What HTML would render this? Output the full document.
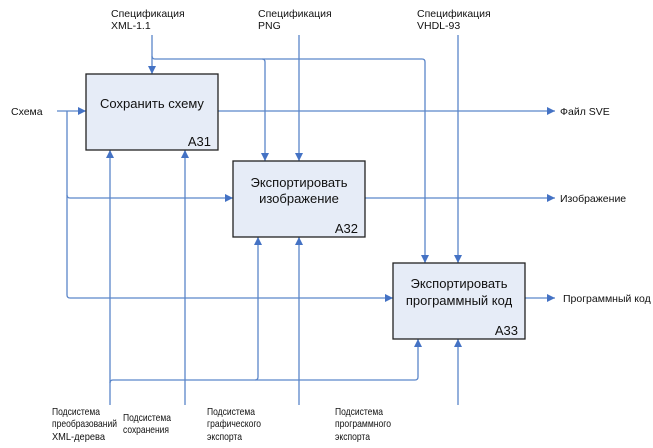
<!DOCTYPE html>
<html><head><meta charset="utf-8"><style>
body{margin:0;background:#fff}
text{font-family:"Liberation Sans",sans-serif;font-size:10.5px;fill:#111}
.b{font-size:13px}
.s{font-size:10.5px}
</style></head><body>
<svg width="653" height="443" viewBox="0 0 653 443" xmlns="http://www.w3.org/2000/svg">
<defs><marker id="a" viewBox="0 0 10 10" refX="10" refY="5" markerWidth="8" markerHeight="8" markerUnits="userSpaceOnUse" orient="auto"><path d="M0,0L10,5L0,10z" fill="#4472c4"/></marker></defs>
<g fill="none" stroke="#5b86c9" stroke-width="1.3">
<path d="M57,111H86" marker-end="url(#a)"/>
<path d="M67,111V195q0,3 3,3H233" marker-end="url(#a)"/>
<path d="M67,195V295q0,3 3,3H393" marker-end="url(#a)"/>
<path d="M218,111H555" marker-end="url(#a)"/>
<path d="M365,198H555" marker-end="url(#a)"/>
<path d="M525,298H555" marker-end="url(#a)"/>
<path d="M152,35V74" marker-end="url(#a)"/>
<path d="M152,56q0,3 3,3H262q3,0 3,3V161" marker-end="url(#a)"/>
<path d="M262,59H422q3,0 3,3V263" marker-end="url(#a)"/>
<path d="M299,35V161" marker-end="url(#a)"/>
<path d="M458,35V263" marker-end="url(#a)"/>
<path d="M110,405V150" marker-end="url(#a)"/>
<path d="M110,383q0,-3 3,-3H415q3,0 3,-3V339" marker-end="url(#a)"/>
<path d="M255,380q3,0 3,-3V237" marker-end="url(#a)"/>
<path d="M185,405V150" marker-end="url(#a)"/>
<path d="M299,405V237" marker-end="url(#a)"/>
<path d="M458,405V339" marker-end="url(#a)"/>
</g>
<g fill="#e6ecf7" stroke="#222" stroke-width="1.3">
<rect x="86" y="74" width="132" height="76"/>
<rect x="233" y="161" width="132" height="76"/>
<rect x="393" y="263" width="132" height="76"/>
</g>
<text class="b" x="152" y="108" text-anchor="middle">Сохранить схему</text>
<text class="b" x="211" y="146" text-anchor="end">А31</text>
<text class="b" x="299" y="187" text-anchor="middle">Экспортировать</text>
<text class="b" x="299" y="203" text-anchor="middle">изображение</text>
<text class="b" x="358" y="233" text-anchor="end">А32</text>
<text class="b" x="459" y="288" text-anchor="middle">Экспортировать</text>
<text class="b" x="459" y="305" text-anchor="middle">программный код</text>
<text class="b" x="518" y="335" text-anchor="end">А33</text>
<text x="11" y="115">Схема</text>
<text x="560" y="115">Файл SVE</text>
<text x="560" y="202">Изображение</text>
<text x="563" y="302">Программный код</text>
<text x="111" y="17">Спецификация</text><text x="111" y="29">XML-1.1</text>
<text x="258" y="17">Спецификация</text><text x="258" y="29">PNG</text>
<text x="417" y="17">Спецификация</text><text x="417" y="29">VHDL-93</text>
<text class="s" x="52" y="415" textLength="48" lengthAdjust="spacingAndGlyphs">Подсистема</text>
<text class="s" x="52" y="427" textLength="65" lengthAdjust="spacingAndGlyphs">преобразований</text>
<text class="s" x="52" y="440" textLength="53" lengthAdjust="spacingAndGlyphs">XML-дерева</text>
<text class="s" x="123" y="421" textLength="48" lengthAdjust="spacingAndGlyphs">Подсистема</text>
<text class="s" x="123" y="433" textLength="46" lengthAdjust="spacingAndGlyphs">сохранения</text>
<text class="s" x="207" y="415" textLength="48" lengthAdjust="spacingAndGlyphs">Подсистема</text>
<text class="s" x="207" y="427" textLength="54" lengthAdjust="spacingAndGlyphs">графического</text>
<text class="s" x="207" y="440" textLength="35" lengthAdjust="spacingAndGlyphs">экспорта</text>
<text class="s" x="335" y="415" textLength="48" lengthAdjust="spacingAndGlyphs">Подсистема</text>
<text class="s" x="335" y="427" textLength="56" lengthAdjust="spacingAndGlyphs">программного</text>
<text class="s" x="335" y="440" textLength="35" lengthAdjust="spacingAndGlyphs">экспорта</text>
</svg>
</body></html>
